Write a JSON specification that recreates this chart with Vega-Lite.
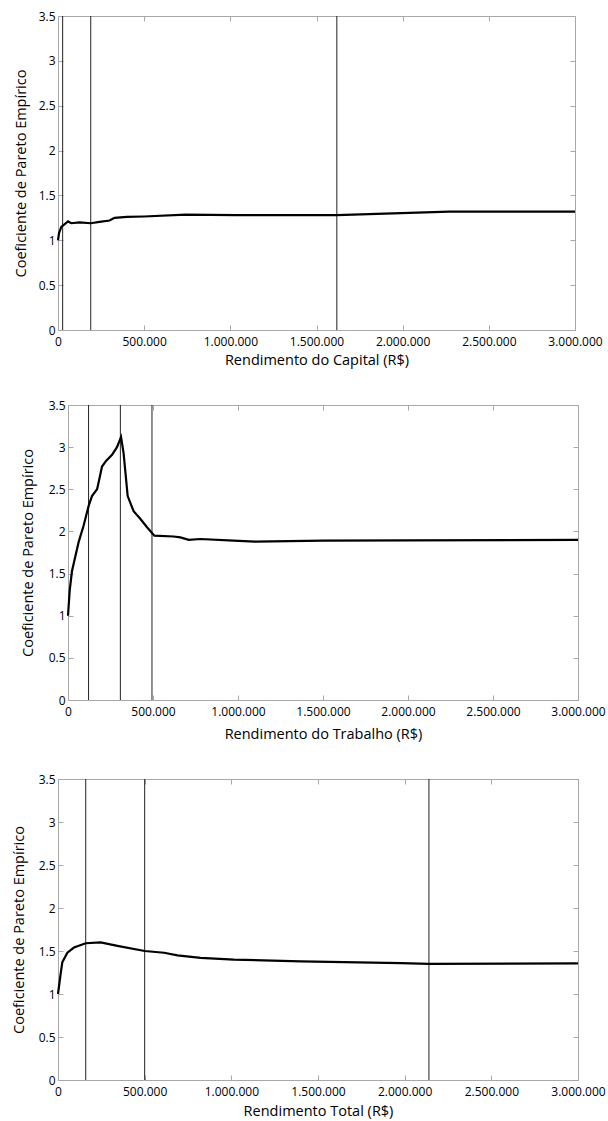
{
  "$schema": "https://vega.github.io/schema/vega-lite/v6.json",
  "padding": {"left": 10, "top": 9, "right": 0, "bottom": 3},
  "background": "white",
  "config": {
    "font": "Open Sans",
    "view": {"stroke": "#a8a8a8", "strokeWidth": 1},
    "axis": {
      "domain": false, "grid": false, "ticks": true, "tickSize": -5, "tickColor": "#a8a8a8",
      "labelFont": "Open Sans", "labelFontSize": 12, "labelColor": "#000", "labelFlush": false, "labelOverlap": false,
      "titleFont": "Open Sans", "titleFontSize": 14.5, "titleFontWeight": "normal", "titleColor": "#000"
    }
  },
  "datasets": {
    "c1": [
      {"x": 0, "y": 1.0}, {"x": 6000, "y": 1.08}, {"x": 19000, "y": 1.15}, {"x": 39000, "y": 1.18},
      {"x": 58000, "y": 1.21}, {"x": 77000, "y": 1.19}, {"x": 125000, "y": 1.2}, {"x": 190000, "y": 1.19},
      {"x": 241000, "y": 1.205}, {"x": 299000, "y": 1.22}, {"x": 328000, "y": 1.25}, {"x": 400000, "y": 1.26},
      {"x": 500000, "y": 1.265}, {"x": 740000, "y": 1.285}, {"x": 1030000, "y": 1.28}, {"x": 1618000, "y": 1.28},
      {"x": 2270000, "y": 1.32}, {"x": 3000000, "y": 1.32}
    ],
    "l1": [{"x": 27000}, {"x": 190000}, {"x": 1618000}],
    "c2": [
      {"x": 0, "y": 1.0}, {"x": 10000, "y": 1.3}, {"x": 23500, "y": 1.53}, {"x": 37000, "y": 1.65},
      {"x": 62000, "y": 1.87}, {"x": 92000, "y": 2.07}, {"x": 121000, "y": 2.3}, {"x": 141000, "y": 2.42},
      {"x": 171000, "y": 2.5}, {"x": 180000, "y": 2.58}, {"x": 200000, "y": 2.77}, {"x": 225000, "y": 2.84},
      {"x": 259000, "y": 2.91}, {"x": 288000, "y": 3.0}, {"x": 312000, "y": 3.12}, {"x": 327000, "y": 2.93},
      {"x": 351000, "y": 2.42}, {"x": 386000, "y": 2.24}, {"x": 425000, "y": 2.15}, {"x": 465000, "y": 2.05},
      {"x": 508000, "y": 1.95}, {"x": 621000, "y": 1.94}, {"x": 661000, "y": 1.93}, {"x": 710000, "y": 1.9},
      {"x": 778000, "y": 1.91}, {"x": 974000, "y": 1.89}, {"x": 1100000, "y": 1.88}, {"x": 1500000, "y": 1.89},
      {"x": 2000000, "y": 1.895}, {"x": 3000000, "y": 1.9}
    ],
    "l2": [{"x": 121000}, {"x": 308000}, {"x": 494000}],
    "c3": [
      {"x": 0, "y": 1.0}, {"x": 15000, "y": 1.23}, {"x": 25000, "y": 1.37}, {"x": 54000, "y": 1.48},
      {"x": 92000, "y": 1.54}, {"x": 160000, "y": 1.59}, {"x": 246000, "y": 1.6}, {"x": 343000, "y": 1.56},
      {"x": 500000, "y": 1.5}, {"x": 612000, "y": 1.48}, {"x": 689000, "y": 1.45}, {"x": 823000, "y": 1.42},
      {"x": 1015000, "y": 1.4}, {"x": 1400000, "y": 1.38}, {"x": 1980000, "y": 1.36}, {"x": 2140000, "y": 1.35},
      {"x": 3000000, "y": 1.355}
    ],
    "l3": [{"x": 160000}, {"x": 500000}, {"x": 2140000}],
    "vazio": []
  },
  "spacing": 31,
  "vconcat": [
    {
      "width": 517, "height": 314,
      "layer": [
        {"data": {"name": "l1"}, "mark": {"type": "rule", "color": "#222", "strokeWidth": 1},
         "encoding": {"x": {"field": "x", "type": "quantitative", "scale": {"domain": [0, 3000000], "nice": false}, "axis": null}}},
        {"data": {"name": "c1"}, "mark": {"type": "line", "color": "#000", "strokeWidth": 2.2},
         "encoding": {
           "x": {"field": "x", "type": "quantitative", "scale": {"domain": [0, 3000000], "nice": false},
                 "axis": {"values": [0, 500000, 1000000, 1500000, 2000000, 2500000, 3000000], "labelExpr": "replace(format(datum.value, ','), regexp(',', 'g'), '.')", "labelPadding": 11, "title": "Rendimento do Capital (R$)", "titlePadding": 6}},
           "y": {"field": "y", "type": "quantitative", "scale": {"domain": [0, 3.5], "nice": false},
                 "axis": {"values": [0, 0.5, 1, 1.5, 2, 2.5, 3, 3.5], "format": "~", "labelPadding": 8, "title": "Coeficiente de Pareto Empírico", "titlePadding": 10}}
         }},
        {"data": {"name": "c1"}, "mark": {"type": "line", "opacity": 0},
         "encoding": {
           "x": {"field": "x", "type": "quantitative", "scale": {"domain": [0, 3000000], "nice": false},
                 "axis": {"orient": "top", "values": [0, 500000, 1000000, 1500000, 2000000, 2500000, 3000000], "labels": false, "title": null}},
           "y": {"field": "y", "type": "quantitative", "scale": {"domain": [0, 3.5], "nice": false},
                 "axis": {"orient": "right", "values": [0, 0.5, 1, 1.5, 2, 2.5, 3, 3.5], "labels": false, "title": null}}
         }}
      ],
      "resolve": {"axis": {"x": "independent", "y": "independent"}}
    },
    {"hconcat": [
    {"width": 1, "height": 1, "data": {"name": "vazio"}, "mark": "point", "view": {"stroke": null}},
    {
      "width": 510, "height": 295,
      "layer": [
        {"data": {"name": "l2"}, "mark": {"type": "rule", "color": "#222", "strokeWidth": 1},
         "encoding": {"x": {"field": "x", "type": "quantitative", "scale": {"domain": [0, 3000000], "nice": false}, "axis": null}}},
        {"data": {"name": "c2"}, "mark": {"type": "line", "color": "#000", "strokeWidth": 2.2},
         "encoding": {
           "x": {"field": "x", "type": "quantitative", "scale": {"domain": [0, 3000000], "nice": false},
                 "axis": {"values": [0, 500000, 1000000, 1500000, 2000000, 2500000, 3000000], "labelExpr": "replace(format(datum.value, ','), regexp(',', 'g'), '.')", "labelPadding": 11, "title": "Rendimento do Trabalho (R$)", "titlePadding": 10}},
           "y": {"field": "y", "type": "quantitative", "scale": {"domain": [0, 3.5], "nice": false},
                 "axis": {"values": [0, 0.5, 1, 1.5, 2, 2.5, 3, 3.5], "format": "~", "labelPadding": 8, "title": "Coeficiente de Pareto Empírico", "titlePadding": 13}}
         }},
        {"data": {"name": "c2"}, "mark": {"type": "line", "opacity": 0},
         "encoding": {
           "x": {"field": "x", "type": "quantitative", "scale": {"domain": [0, 3000000], "nice": false},
                 "axis": {"orient": "top", "values": [0, 500000, 1000000, 1500000, 2000000, 2500000, 3000000], "labels": false, "title": null}},
           "y": {"field": "y", "type": "quantitative", "scale": {"domain": [0, 3.5], "nice": false},
                 "axis": {"orient": "right", "values": [0, 0.5, 1, 1.5, 2, 2.5, 3, 3.5], "labels": false, "title": null}}
         }}
      ],
      "resolve": {"axis": {"x": "independent", "y": "independent"}}
    }], "spacing": -40},
    {
      "width": 520, "height": 301,
      "layer": [
        {"data": {"name": "l3"}, "mark": {"type": "rule", "color": "#222", "strokeWidth": 1},
         "encoding": {"x": {"field": "x", "type": "quantitative", "scale": {"domain": [0, 3000000], "nice": false}, "axis": null}}},
        {"data": {"name": "c3"}, "mark": {"type": "line", "color": "#000", "strokeWidth": 2.2},
         "encoding": {
           "x": {"field": "x", "type": "quantitative", "scale": {"domain": [0, 3000000], "nice": false},
                 "axis": {"values": [0, 500000, 1000000, 1500000, 2000000, 2500000, 3000000], "labelExpr": "replace(format(datum.value, ','), regexp(',', 'g'), '.')", "labelPadding": 11, "title": "Rendimento Total (R$)", "titlePadding": 7}},
           "y": {"field": "y", "type": "quantitative", "scale": {"domain": [0, 3.5], "nice": false},
                 "axis": {"values": [0, 0.5, 1, 1.5, 2, 2.5, 3, 3.5], "format": "~", "labelPadding": 8, "title": "Coeficiente de Pareto Empírico", "titlePadding": 12}}
         }},
        {"data": {"name": "c3"}, "mark": {"type": "line", "opacity": 0},
         "encoding": {
           "x": {"field": "x", "type": "quantitative", "scale": {"domain": [0, 3000000], "nice": false},
                 "axis": {"orient": "top", "values": [0, 500000, 1000000, 1500000, 2000000, 2500000, 3000000], "labels": false, "title": null}},
           "y": {"field": "y", "type": "quantitative", "scale": {"domain": [0, 3.5], "nice": false},
                 "axis": {"orient": "right", "values": [0, 0.5, 1, 1.5, 2, 2.5, 3, 3.5], "labels": false, "title": null}}
         }}
      ],
      "resolve": {"axis": {"x": "independent", "y": "independent"}}
    }
  ]
}
